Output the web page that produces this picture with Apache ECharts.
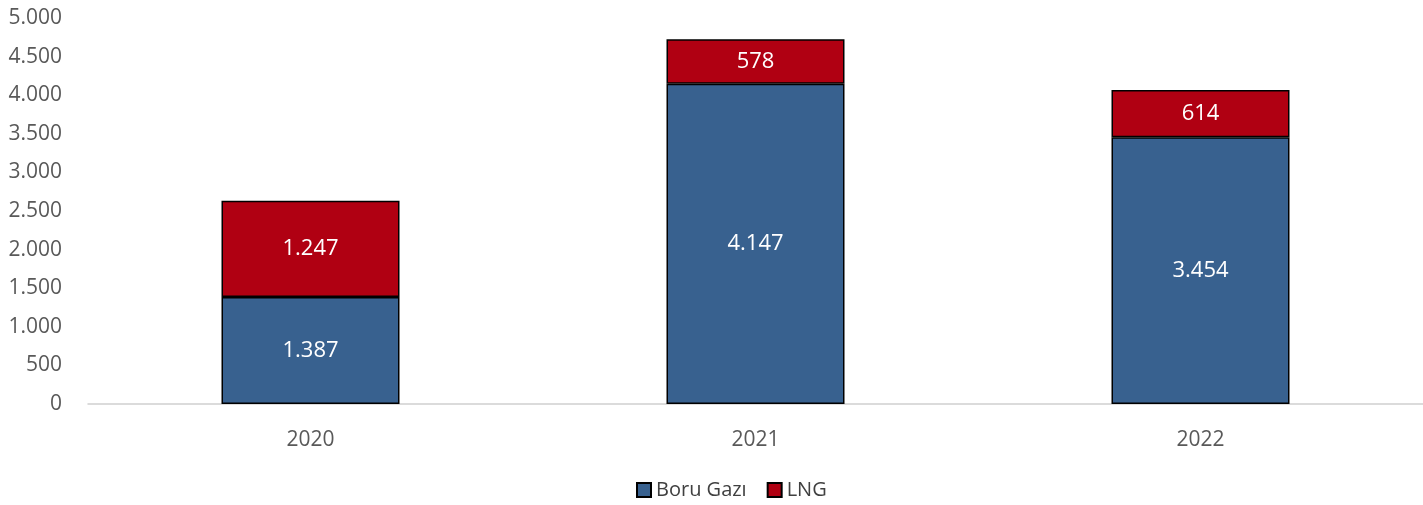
<!DOCTYPE html>
<html>
<head>
<meta charset="utf-8">
<script src="https://cdn.jsdelivr.net/npm/echarts@6/dist/echarts.min.js"></script>
<style>
html, body { margin: 0; padding: 0; background: #fff; }
#main { width: 1423px; height: 505px; }
</style>
</head>
<body>
<div id="main"></div>
<script>
const years = ['2020', '2021', '2022'];
const boruGazi = [1387, 4147, 3454];
const lng = [1247, 578, 614];
const yTicks = [0, 500, 1000, 1500, 2000, 2500, 3000, 3500, 4000, 4500, 5000];

function fmt(v) {
    return String(v).replace(/\B(?=(\d{3})+(?!\d))/g, '.');
}

const myChart = echarts.init(document.getElementById('main'));
const option = {
    textStyle: { fontFamily: 'Open Sans' },
    grid: { left: 88, right: 0, top: 18, bottom: 101 },
    legend: {
        bottom: 0,
        left: 631,
        itemWidth: 14,
        itemHeight: 14,
        itemGap: 20,
        textStyle: { fontSize: 20, color: '#404040', fontFamily: 'Open Sans' },
        data: [
            { name: 'Boru Gazı', icon: 'rect' },
            { name: 'LNG', icon: 'rect' }
        ]
    },
    xAxis: {
        type: 'category',
        data: years,
        axisLine: { lineStyle: { color: '#d0d0d0', width: 1.5 } },
        axisTick: { show: false },
        axisLabel: { fontSize: 21, color: '#595959', margin: 26 }
    },
    yAxis: {
        type: 'value',
        min: yTicks[0],
        max: yTicks[yTicks.length - 1],
        interval: 500,
        splitLine: { show: false },
        axisLine: { show: false },
        axisTick: { show: false },
        axisLabel: { fontSize: 21, color: '#595959', margin: 26, formatter: fmt }
    },
    series: [
        {
            name: 'Boru Gazı',
            type: 'bar',
            stack: 'total',
            barWidth: '40%',
            data: boruGazi,
            itemStyle: { color: '#38618f', borderColor: '#000', borderWidth: 1.5 },
            label: { show: true, position: 'inside', color: '#fff', fontSize: 22, formatter: p => fmt(p.value) }
        },
        {
            name: 'LNG',
            type: 'bar',
            stack: 'total',
            barWidth: '40%',
            data: lng,
            itemStyle: { color: '#b00012', borderColor: '#000', borderWidth: 1.5 },
            label: { show: true, position: 'inside', color: '#fff', fontSize: 22, formatter: p => fmt(p.value) }
        }
    ]
};
myChart.setOption(option);
</script>
</body>
</html>
